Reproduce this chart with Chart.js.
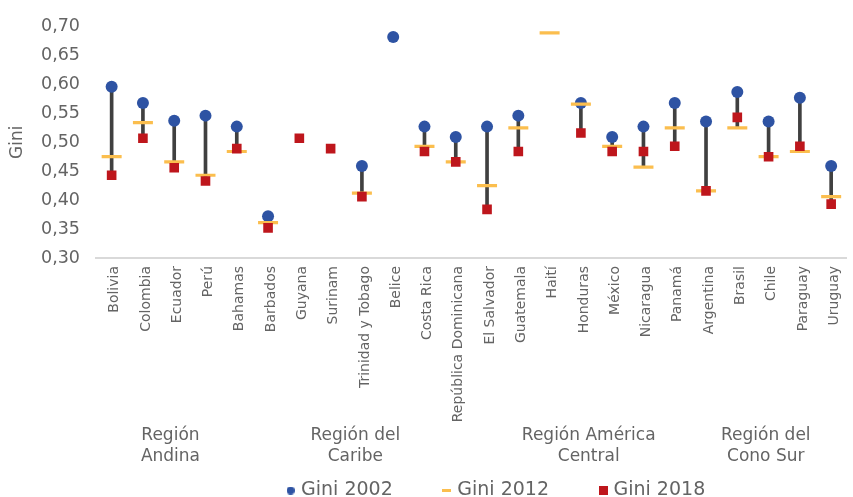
<!DOCTYPE html>
<html lang="es">
<head>
<meta charset="utf-8">
<title>Coeficiente de Gini 2002, 2012 y 2018</title>
<script src="https://cdn.jsdelivr.net/npm/chart.js@4.4.0/dist/chart.umd.min.js"></script>
<style>
  html, body { margin: 0; padding: 0; background: #ffffff; overflow: hidden; }
  #wrap { width: 853px; height: 497px; overflow: hidden; }
  canvas { display: block; }
</style>
</head>
<body>
<div id="wrap"><canvas id="chart" width="860" height="510"></canvas></div>
<script>
// Countries, grouped by region (left to right)
const categories = [
  'Bolivia', 'Colombia', 'Ecuador', 'Perú',
  'Bahamas', 'Barbados', 'Guyana', 'Surinam', 'Trinidad y Tobago',
  'Belice', 'Costa Rica', 'República Dominicana', 'El Salvador', 'Guatemala',
  'Haití', 'Honduras', 'México', 'Nicaragua', 'Panamá',
  'Argentina', 'Brasil', 'Chile', 'Paraguay', 'Uruguay'
];

// Gini coefficient by year (null = no data)
const gini2002 = [
  0.596, 0.568, 0.537, 0.546,
  0.527, 0.372, null, null, 0.459,
  0.682, 0.527, 0.509, 0.527, 0.546,
  null, 0.568, 0.509, 0.527, 0.568,
  0.536, 0.587, 0.536, 0.577, 0.459
];
const gini2012 = [
  0.475, 0.534, 0.466, 0.443,
  0.484, 0.361, null, null, 0.412,
  null, 0.493, 0.466, 0.425, 0.525,
  0.689, 0.566, 0.493, 0.457, 0.525,
  0.416, 0.525, 0.475, 0.484, 0.406
];
const gini2018 = [
  0.443, 0.507, 0.456, 0.433,
  0.489, 0.352, 0.507, 0.489, 0.406,
  null, 0.484, 0.466, 0.384, 0.484,
  null, 0.516, 0.484, 0.484, 0.493,
  0.416, 0.543, 0.475, 0.493, 0.393
];

// Region captions under the country names
const regionNames = [
  ['Región', 'Andina'],
  ['Región del', 'Caribe'],
  ['Región América', 'Central'],
  ['Región del', 'Cono Sur']
];

// Value axis
const yMin = 0.30;
const yMax = 0.70;
const yStep = 0.05;

const seriesLabels = ['Gini 2002', 'Gini 2012', 'Gini 2018'];

// Colours and fonts
const BLUE = '#2E53A3';
const GOLD = '#FBBE4E';
const RED = '#BE161C';
const STEM = '#404040';
const TEXT = '#646464';
const FONT = "'DejaVu Sans', sans-serif";

// Spread between the highest and lowest reading of each country
const ranges = categories.map((_, i) => {
  const vals = [gini2002[i], gini2012[i], gini2018[i]].filter(v => v !== null);
  const lo = Math.min(...vals);
  const hi = Math.max(...vals);
  return hi > lo ? [lo, hi] : null;
});

// Small bitmaps used as legend symbols
function markerCanvas(w, h, paint) {
  const c = document.createElement('canvas');
  c.width = w;
  c.height = h;
  paint(c.getContext('2d'));
  return c;
}
const legendMarkers = [
  markerCanvas(8, 8, g => { g.fillStyle = BLUE; g.beginPath(); g.arc(4, 4, 4, 0, Math.PI * 2); g.fill(); }),
  markerCanvas(9, 3, g => { g.fillStyle = GOLD; g.fillRect(0, 0, 9, 3); }),
  markerCanvas(9, 9, g => { g.fillStyle = RED; g.fillRect(0, 0, 9, 9); })
];

// Draws the two-line region captions below the rotated country names
const regionLabels = {
  id: 'regionLabels',
  afterDraw(chart, args, opts) {
    const { ctx } = chart;
    const x = chart.scales.x;
    ctx.save();
    ctx.font = `${opts.size}px ${FONT}`;
    ctx.fillStyle = opts.color;
    ctx.textAlign = 'center';
    ctx.textBaseline = 'alphabetic';
    regionNames.forEach((lines, i) => {
      const cx = x.getPixelForValue(opts.anchors[i]);
      lines.forEach((line, j) => {
        ctx.fillText(line, cx, x.top + opts.firstBaseline + j * opts.lineGap);
      });
    });
    ctx.restore();
  }
};

// Moves the legend row sideways after layout
const legendShift = {
  id: 'legendShift',
  afterLayout(chart, args, opts) {
    const lg = chart.legend;
    if (lg) {
      lg.left += opts.dx;
      lg.right += opts.dx;
    }
  }
};

Chart.defaults.font.family = FONT;
Chart.defaults.color = TEXT;

new Chart(document.getElementById('chart'), {
  type: 'bar',
  data: {
    labels: categories,
    datasets: [
      {
        type: 'line',
        label: seriesLabels[0],
        data: gini2002,
        showLine: false,
        pointStyle: 'circle',
        pointRadius: 6,
        pointBackgroundColor: BLUE,
        pointBorderColor: BLUE,
        pointBorderWidth: 0,
        order: 3
      },
      {
        type: 'line',
        label: seriesLabels[1],
        data: gini2012,
        showLine: false,
        pointStyle: 'line',
        pointRadius: 10,
        pointBackgroundColor: GOLD,
        pointBorderColor: GOLD,
        pointBorderWidth: 3.2,
        order: 2
      },
      {
        type: 'line',
        label: seriesLabels[2],
        data: gini2018,
        showLine: false,
        pointStyle: 'rect',
        pointRadius: 6.8,
        pointBackgroundColor: RED,
        pointBorderColor: RED,
        pointBorderWidth: 0,
        order: 1
      },
      {
        type: 'bar',
        label: 'rango',
        data: ranges,
        backgroundColor: STEM,
        barThickness: 3,
        order: 4
      }
    ]
  },
  options: {
    responsive: false,
    animation: false,
    events: [],
    layout: { padding: { top: 23, right: 0, bottom: 0, left: 0 } },
    scales: {
      x: {
        offset: true,
        grid: { display: false, drawTicks: false },
        border: { display: true, color: '#D9D9D9', width: 2 },
        ticks: {
          autoSkip: false,
          minRotation: 90,
          maxRotation: 90,
          padding: 8,
          labelOffset: 3,
          color: TEXT,
          font: { size: 14 }
        },
        afterFit(scale) { scale.height = 170; }
      },
      y: {
        min: yMin,
        max: yMax,
        grid: { display: false, drawTicks: false },
        border: { display: false },
        ticks: {
          stepSize: yStep,
          padding: 16,
          color: TEXT,
          font: { size: 17.5 },
          callback: v => Number(v).toFixed(2).replace('.', ',')
        },
        title: {
          display: true,
          text: 'Gini',
          color: TEXT,
          font: { size: 17 },
          padding: { top: 7, bottom: 0 }
        },
        afterFit(scale) { scale.width = 96; }
      }
    },
    plugins: {
      tooltip: { enabled: false },
      legend: {
        position: 'bottom',
        fullSize: false,
        labels: {
          usePointStyle: true,
          boxWidth: 2,
          boxHeight: 8,
          padding: 53,
          color: TEXT,
          font: { size: 19 },
          generateLabels: () => seriesLabels.map((text, i) => ({
            text,
            pointStyle: legendMarkers[i],
            fillStyle: 'transparent',
            strokeStyle: 'transparent',
            lineWidth: 0,
            hidden: false,
            datasetIndex: i,
            fontColor: TEXT
          }))
        }
      },
      legendShift: { dx: 26 },
      regionLabels: {
        anchors: [1.88, 7.79, 15.25, 20.91],
        firstBaseline: 182,
        lineGap: 21,
        size: 17,
        color: TEXT
      }
    }
  },
  plugins: [regionLabels, legendShift]
});
</script>
</body>
</html>
